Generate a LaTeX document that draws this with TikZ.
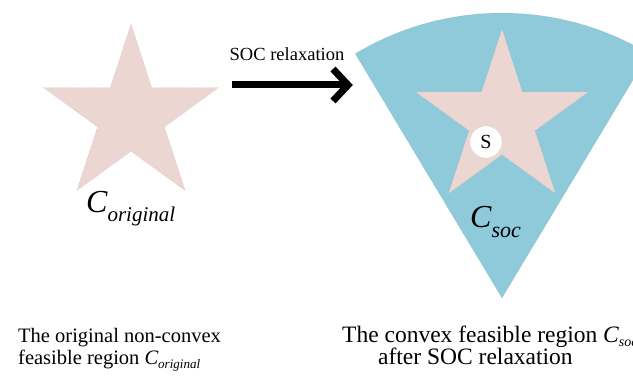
\documentclass[tikz,border=0pt]{standalone}
\usepackage{fontspec}
\setmainfont{Liberation Serif}
\newfontfamily\tnr{Liberation Serif}
\usetikzlibrary{shapes.geometric,calc}
\definecolor{starpink}{HTML}{EBD6D2}
\definecolor{fanblue}{HTML}{8ECAD9}
\newcommand{\fsz}[1]{\tnr\fontsize{#1}{#1}\selectfont}
\begin{document}
\begin{tikzpicture}[x=1pt,y=-1pt,
  faint/.style={draw=gray!70, densely dotted, line width=0.3pt},
  region/.style={star, star points=5, star point ratio=2.618, inner sep=0pt, fill=starpink, faint},
  lbl/.style={inner sep=0pt, anchor=base west},
  thickarrow/.style={line width=7pt, draw=black},
  captionL/.style={lbl, font=\fsz{20.5}},
  captionR/.style={lbl, font=\fsz{23.5}}]
\useasboundingbox (0,0) rectangle (633,377);
\clip (0,0) rectangle (633,377);
\fill[white] (0,0) rectangle (633,377);
% convex fan region
\coordinate (apex) at (502,298);
\path[fill=fanblue, faint] (apex) -- ++(121:285pt) arc[start angle=121, end angle=59, radius=285pt] -- cycle;
% stars
\node[region, minimum size=184pt] (star1) at (131,116) {};
\node[region, minimum size=182pt] (star2) at (502,120) {};
% S point
\node[circle, fill=white, faint, minimum size=32pt, inner sep=0pt, font=\fsz{20}] (s) at (486,142) {S};
% region labels
\node[lbl, font=\fsz{32}] (corig) at (86,213) {{\itshape C}\raisebox{-9pt}{\fsz{21}\itshape original}};
\node[lbl, font=\fsz{32}] (csoc) at (470,228) {{\itshape C}\raisebox{-10pt}{\fsz{22}\itshape soc}};
% arrow
\coordinate (arrS) at (232,85);
\coordinate (arrT) at (348,85);
\draw[thickarrow] (arrS) -- (arrT);
\draw[thickarrow, miter limit=10] ($(arrT)+(-15,-16)$) -- (arrT) -- ($(arrT)+(-15,16)$);
\node[lbl, anchor=base, font=\fsz{18.5}] (soclbl) at (287,61) {SOC relaxation};
% captions
\node[captionL] (t1) at (18,342) {The original non-convex};
\node[captionL] (t2) at (18,365) {feasible region {\itshape C}\raisebox{-4pt}{\fsz{13}\itshape original}};
\node[captionR] (t3) at (342,342) {The convex feasible region {\itshape C}\raisebox{-5pt}{\fsz{14}\itshape soc}};
\node[captionR] (t4) at (378,365) {after SOC relaxation};
\end{tikzpicture}
\end{document}
